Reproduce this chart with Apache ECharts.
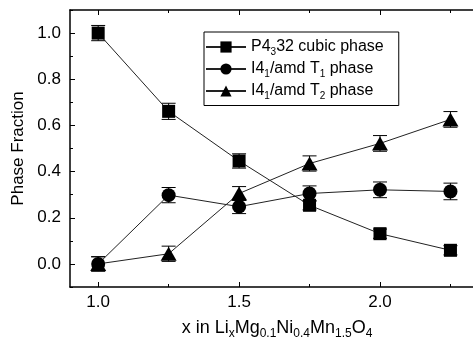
<!DOCTYPE html>
<html>
<head>
<meta charset="utf-8">
<script src="https://cdn.jsdelivr.net/npm/echarts@6/dist/echarts.min.js"></script>
<style>
  html, body { margin: 0; padding: 0; background: #fff; }
  #chart { width: 473px; height: 345px; }
</style>
</head>
<body>
<div id="chart"></div>
<script>
// Composition values
const xValues = [1.0, 1.25, 1.5, 1.75, 2.0, 2.25];
const cubicPhase = [1.0, 0.661, 0.446, 0.254, 0.131, 0.059];
const t1Phase = [0.0, 0.298, 0.248, 0.305, 0.321, 0.314];
const t2Phase = [0.0, 0.044, 0.305, 0.435, 0.522, 0.626];
const errCubic = [0.033, 0.035, 0.031, 0.02, 0.02, 0.02];
const errT1 = [0.031, 0.033, 0.03, 0.033, 0.034, 0.036];
const errT2 = [0.031, 0.033, 0.03, 0.033, 0.034, 0.034];

// Tick positions
const xMajorTicks = [1.0, 1.5, 2.0];
const xMinorTicks = [1.25, 1.75, 2.25];
const yMajorTicks = [0.0, 0.2, 0.4, 0.6, 0.8, 1.0];
const yMinorTicks = [-0.1, 0.1, 0.3, 0.5, 0.7, 0.9, 1.1];

const seriesNames = ['cubic', 't1', 't2'];
const legendText = {
  cubic: 'P4{s|3}32 cubic phase',
  t1: 'I4{s|1}/amd T{s|1} phase',
  t2: 'I4{s|1}/amd T{s|2} phase'
};

const FONT = 'Liberation Sans';
const X_MIN = 0.9, X_MAX = 2.33, Y_MIN = -0.1, Y_MAX = 1.1;

function pairs(ys) { return xValues.map((x, i) => [x, ys[i]]); }
function errData(ys, es) { return xValues.map((x, i) => [x, ys[i] - es[i], ys[i] + es[i]]); }

function errorBars(ys, es) {
  return {
    type: 'custom',
    xAxisIndex: 0, yAxisIndex: 0,
    z: 1,
    silent: true,
    data: errData(ys, es),
    renderItem: function (params, api) {
      const x = api.value(0);
      const lo = api.coord([x, api.value(1)]);
      const hi = api.coord([x, api.value(2)]);
      const half = 7;
      const style = { stroke: '#000', lineWidth: 1 };
      return {
        type: 'group',
        children: [
          { type: 'line', shape: { x1: lo[0], y1: lo[1], x2: hi[0], y2: hi[1] }, style: style },
          { type: 'line', shape: { x1: lo[0] - half, y1: lo[1], x2: lo[0] + half, y2: lo[1] }, style: style },
          { type: 'line', shape: { x1: hi[0] - half, y1: hi[1], x2: hi[0] + half, y2: hi[1] }, style: style }
        ]
      };
    }
  };
}

function lineSeries(name, ys, symbol, size) {
  return {
    name: name,
    type: 'line',
    xAxisIndex: 0, yAxisIndex: 0,
    z: 3,
    data: pairs(ys),
    symbol: symbol,
    symbolSize: size,
    showAllSymbol: true,
    itemStyle: { color: '#000', borderWidth: 0 },
    lineStyle: { color: '#222', width: 1 },
    emphasis: { disabled: true }
  };
}

function xAxisDef(position, ticks, len, showLine, showLabel) {
  return {
    type: 'value', position: position, min: X_MIN, max: X_MAX,
    axisLine: { show: showLine, onZero: false, lineStyle: { color: '#000', width: 1.5 } },
    axisTick: { show: true, inside: true, length: len, customValues: ticks, lineStyle: { color: '#000', width: 1 } },
    axisLabel: showLabel ? {
      show: true, customValues: ticks, margin: 7,
      fontFamily: FONT, fontSize: 17, color: '#000',
      formatter: v => v.toFixed(1)
    } : { show: false },
    splitLine: { show: false }
  };
}

function yAxisDef(ticks, len, showLine, showLabel) {
  return {
    type: 'value', position: 'left', min: Y_MIN, max: Y_MAX,
    axisLine: { show: showLine, onZero: false, lineStyle: { color: '#000', width: 1.5 } },
    axisTick: { show: true, inside: true, length: len, customValues: ticks, lineStyle: { color: '#000', width: 1 } },
    axisLabel: showLabel ? {
      show: true, customValues: ticks, margin: 9,
      fontFamily: FONT, fontSize: 17, color: '#000',
      formatter: v => v.toFixed(1)
    } : { show: false },
    splitLine: { show: false }
  };
}

const xBottom = xAxisDef('bottom', xMajorTicks, 5, true, true);
xBottom.name = 'x in Li{s|x}Mg{s|0.1}Ni{s|0.4}Mn{s|1.5}O{s|4}';
xBottom.nameLocation = 'middle';
xBottom.nameGap = 31;
xBottom.nameTextStyle = {
  fontFamily: FONT, fontSize: 18, color: '#000', lineHeight: 20,
  padding: [0, 0, 0, 11],
  rich: { s: { fontFamily: FONT, fontSize: 12, color: '#000', padding: [12, 0, 0, 0] } }
};

const yLeft = yAxisDef(yMajorTicks, 5, true, true);
yLeft.name = 'Phase Fraction';
yLeft.nameLocation = 'middle';
yLeft.nameGap = 37;
yLeft.nameTextStyle = { fontFamily: FONT, fontSize: 17, color: '#000' };

const option = {
  animation: false,
  backgroundColor: '#fff',
  grid: { left: 70, right: 0, top: 10, bottom: 49, containLabel: false },
  xAxis: [
    xBottom,
    xAxisDef('bottom', xMinorTicks, 3, false, false),
    xAxisDef('top', xMajorTicks, 5, true, false),
    xAxisDef('top', xMinorTicks, 3, false, false)
  ],
  yAxis: [
    yLeft,
    yAxisDef(yMinorTicks, 3, false, false)
  ],
  legend: {
    data: seriesNames,
    orient: 'vertical',
    left: 204, top: 32,
    padding: [5, 15, 4, 1],
    itemGap: 1.5,
    itemWidth: 40,
    itemHeight: 14,
    borderColor: '#000',
    borderWidth: 1,
    backgroundColor: '#fff',
    selectedMode: false,
    formatter: name => legendText[name],
    textStyle: {
      fontFamily: FONT, fontSize: 16, color: '#000', lineHeight: 20,
      rich: { s: { fontFamily: FONT, fontSize: 10, color: '#000', padding: [11, 0, 0, 0] } }
    }
  },
  series: [
    errorBars(cubicPhase, errCubic),
    errorBars(t1Phase, errT1),
    errorBars(t2Phase, errT2),
    lineSeries('cubic', cubicPhase, 'rect', 13),
    lineSeries('t1', t1Phase, 'circle', 14),
    lineSeries('t2', t2Phase, 'triangle', [16, 14])
  ]
};

const chart = echarts.init(document.getElementById('chart'), null, { renderer: 'canvas' });
chart.setOption(option);
</script>
</body>
</html>
